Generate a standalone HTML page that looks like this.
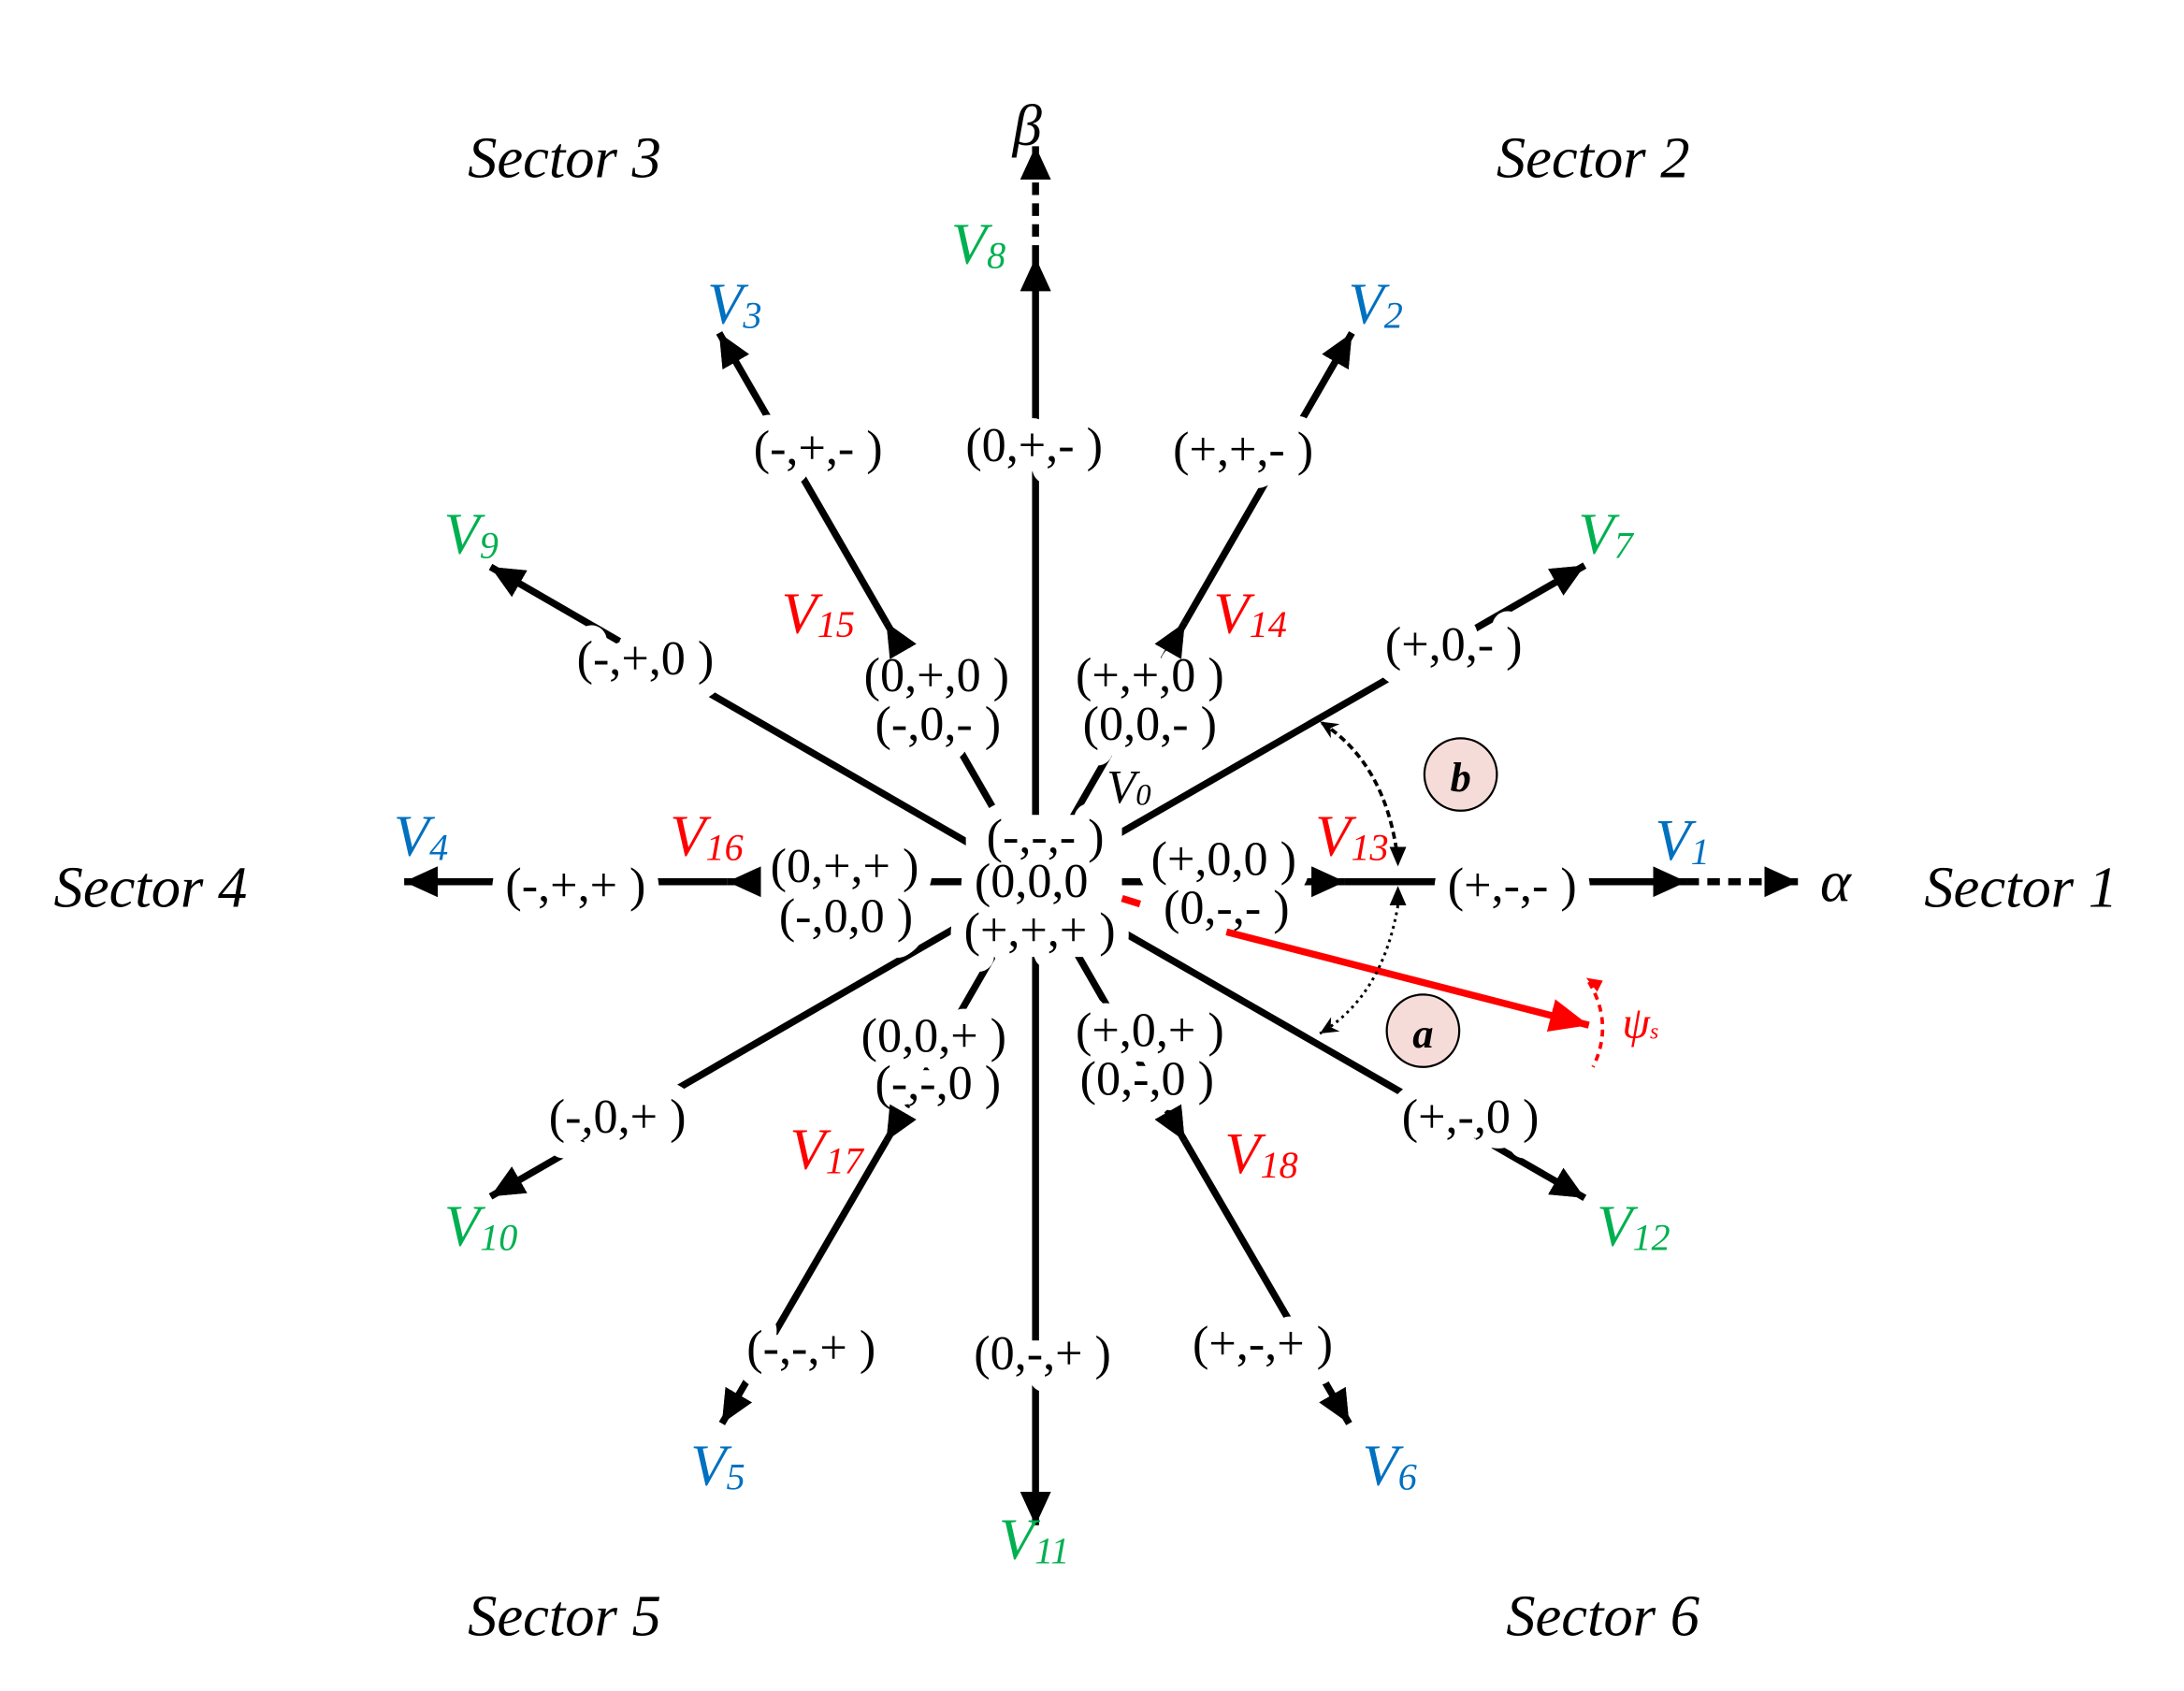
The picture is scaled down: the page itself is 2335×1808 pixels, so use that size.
<!DOCTYPE html>
<html><head><meta charset="utf-8"><style>
html,body{margin:0;padding:0;background:#fff;}
svg{display:block}
.t{font-family:"Liberation Serif",serif;font-size:35px;text-anchor:middle;dominant-baseline:central}
.v{font-family:"Liberation Serif",serif;font-style:italic;font-size:42px;text-anchor:middle;dominant-baseline:central}
.v tspan.s{font-size:27px}
.sec{font-family:"Liberation Serif",serif;font-style:italic;font-size:42px;text-anchor:middle;dominant-baseline:central;fill:#000}
.g{fill:#00b050}.b{fill:#0070c0}.r{fill:#ff0000}.k{fill:#000}
</style></head><body>
<svg width="2335" height="1808" viewBox="0 0 1567 1214" preserveAspectRatio="none" xmlns="http://www.w3.org/2000/svg" xmlns:xlink="http://www.w3.org/1999/xlink">
<defs>
<marker id="ah" markerUnits="userSpaceOnUse" markerWidth="26" markerHeight="22" refX="24" refY="11" orient="auto"><path d="M0,0 L24,11 L0,22 z" fill="#000" stroke="none"/></marker>
<marker id="ahr" markerUnits="userSpaceOnUse" markerWidth="30" markerHeight="24" refX="28" refY="12" orient="auto"><path d="M0,0 L28,12 L0,24 z" fill="#f00"/></marker>
<marker id="sm" markerUnits="userSpaceOnUse" markerWidth="14" markerHeight="12" refX="13" refY="6" orient="auto"><path d="M0,0 L13,6 L0,12 L4,6 z" fill="#000"/></marker>
<g id="lines">
<line x1="743" y1="633" x2="965" y2="633" marker-end="url(#ah)"/>
<line x1="965" y1="633" x2="1210" y2="633" marker-end="url(#ah)"/>
<line x1="1210" y1="633" x2="1290" y2="633" stroke-dasharray="9,6" marker-end="url(#ah)"/>
<line x1="743" y1="633" x2="850" y2="447" marker-end="url(#ah)"/>
<line x1="850" y1="447" x2="970" y2="239" marker-end="url(#ah)"/>
<line x1="743" y1="633" x2="636" y2="447" marker-end="url(#ah)"/>
<line x1="636" y1="447" x2="516" y2="239" marker-end="url(#ah)"/>
<line x1="743" y1="633" x2="522" y2="633" marker-end="url(#ah)"/>
<line x1="522" y1="633" x2="290" y2="633" marker-end="url(#ah)"/>
<line x1="743" y1="633" x2="636" y2="819" marker-end="url(#ah)"/>
<line x1="636" y1="819" x2="518" y2="1022" marker-end="url(#ah)"/>
<line x1="743" y1="633" x2="850" y2="819" marker-end="url(#ah)"/>
<line x1="850" y1="819" x2="968" y2="1022" marker-end="url(#ah)"/>
<line x1="743" y1="633" x2="1137" y2="406" marker-end="url(#ah)"/>
<line x1="743" y1="633" x2="743" y2="185" marker-end="url(#ah)"/>
<line x1="743" y1="185" x2="743" y2="105" stroke-dasharray="9,6" marker-end="url(#ah)"/>
<line x1="743" y1="633" x2="352" y2="407" marker-end="url(#ah)"/>
<line x1="743" y1="633" x2="352" y2="859" marker-end="url(#ah)"/>
<line x1="743" y1="633" x2="743" y2="1095" marker-end="url(#ah)"/>
<line x1="743" y1="633" x2="1137" y2="860" marker-end="url(#ah)"/>
</g>
<g id="labels">
<text class="t" x="742" y="320">(0,+,- )</text>
<text class="t" x="587" y="322">(-,+,- )</text>
<text class="t" x="892" y="323">(+,+,- )</text>
<text class="t" x="463" y="473">(-,+,0 )</text>
<text class="t" x="1043" y="463">(+,0,- )</text>
<text class="t" x="672" y="485">(0,+,0 )</text>
<text class="t" x="673" y="520">(-,0,- )</text>
<text class="t" x="825" y="485">(+,+,0 )</text>
<text class="t" x="825" y="520">(0,0,- )</text>
<text class="t" x="750" y="601">(-,-,- )</text>
<text class="t" x="740" y="633">(0,0,0</text>
<text class="t" x="746" y="668">(+,+,+ )</text>
<text class="t" x="878" y="617">(+,0,0 )</text>
<text class="t" x="880" y="652">(0,-,- )</text>
<text class="t" x="1085" y="636">(+,-,- )</text>
<text class="t" x="413" y="636">(-,+,+ )</text>
<text class="t" x="606" y="622">(0,+,+ )</text>
<text class="t" x="607" y="658">(-,0,0 )</text>
<text class="t" x="670" y="744">(0,0,+ )</text>
<text class="t" x="673" y="778">(-,-,0 )</text>
<text class="t" x="825" y="740">(+,0,+ )</text>
<text class="t" x="823" y="775">(0,-,0 )</text>
<text class="t" x="443" y="802">(-,0,+ )</text>
<text class="t" x="1055" y="802">(+,-,0 )</text>
<text class="t" x="582" y="968">(-,-,+ )</text>
<text class="t" x="748" y="972">(0,-,+ )</text>
<text class="t" x="906" y="965">(+,-,+ )</text>
</g>
</defs>
<use href="#lines" xlink:href="#lines" stroke="#000" stroke-width="5" fill="none"/>
<use href="#labels" xlink:href="#labels" fill="#fff" stroke="#fff" stroke-width="22" stroke-linejoin="round"/>
<rect x="693" y="585" width="112" height="102" fill="#fff"/>
<use href="#lines" xlink:href="#lines" stroke="none" fill="none"/>
<line x1="880" y1="669" x2="1140" y2="736" stroke="#f00" stroke-width="5" marker-end="url(#ahr)"/>
<line x1="805" y1="645" x2="818" y2="649" stroke="#f00" stroke-width="5"/>
<path d="M1140,705 Q1158,735 1143,766" stroke="#f00" stroke-width="2.5" fill="none" stroke-dasharray="5,4"/>
<path d="M1146,712 L1138,702 L1150,704 z" fill="#f00"/>
<path d="M1003,618 Q995,548 947,518" stroke="#000" stroke-width="2.5" fill="none" stroke-dasharray="5,3" marker-end="url(#sm)"/>
<path d="M997,608 L1003,622 L1009,608" fill="#000"/>
<path d="M1003,650 Q992,715 947,742" stroke="#000" stroke-width="2" fill="none" stroke-dasharray="2,3" marker-end="url(#sm)"/>
<path d="M997,650 L1003,636 L1009,650 z" fill="#000"/>
<circle cx="1048" cy="556" r="26" fill="#f6dcd8" stroke="#000" stroke-width="1.5"/>
<text x="1048" y="558" class="v k" style="font-size:30px;font-weight:bold">b</text>
<circle cx="1021" cy="740" r="26" fill="#f6dcd8" stroke="#000" stroke-width="1.5"/>
<text x="1021" y="742" class="v k" style="font-size:30px;font-weight:bold">a</text>
<use href="#labels" xlink:href="#labels" fill="#000" stroke="none"/>
<text class="v k" x="810" y="565" style="font-size:34px">V<tspan class="s" style="font-size:22px" dy="6">0</tspan></text>
<text class="v g" x="702" y="175">V<tspan class="s" dy="8">8</tspan></text>
<text class="v b" x="527" y="218">V<tspan class="s" dy="8">3</tspan></text>
<text class="v b" x="987" y="218">V<tspan class="s" dy="8">2</tspan></text>
<text class="v g" x="338" y="383">V<tspan class="s" dy="8">9</tspan></text>
<text class="v g" x="1152" y="383">V<tspan class="s" dy="8">7</tspan></text>
<text class="v r" x="587" y="440">V<tspan class="s" dy="8">15</tspan></text>
<text class="v r" x="897" y="440">V<tspan class="s" dy="8">14</tspan></text>
<text class="v b" x="302" y="600">V<tspan class="s" dy="8">4</tspan></text>
<text class="v r" x="507" y="600">V<tspan class="s" dy="8">16</tspan></text>
<text class="v r" x="970" y="600">V<tspan class="s" dy="8">13</tspan></text>
<text class="v b" x="1207" y="603">V<tspan class="s" dy="8">1</tspan></text>
<text class="v g" x="345" y="880">V<tspan class="s" dy="8">10</tspan></text>
<text class="v r" x="593" y="825">V<tspan class="s" dy="8">17</tspan></text>
<text class="v r" x="905" y="828">V<tspan class="s" dy="8">18</tspan></text>
<text class="v g" x="1172" y="880">V<tspan class="s" dy="8">12</tspan></text>
<text class="v b" x="515" y="1052">V<tspan class="s" dy="8">5</tspan></text>
<text class="v b" x="997" y="1052">V<tspan class="s" dy="8">6</tspan></text>
<text class="v g" x="742" y="1105">V<tspan class="s" dy="8">11</tspan></text>
<text class="v k" x="737" y="90">β</text>
<text class="v k" x="1317" y="633">α</text>
<text class="v r" x="1177" y="735" style="font-size:32px">ψ<tspan style="font-size:16px" dy="6">s</tspan></text>
<text class="sec" x="405" y="113">Sector 3</text>
<text class="sec" x="1143" y="113">Sector 2</text>
<text class="sec" x="108" y="637">Sector 4</text>
<text class="sec" x="1450" y="637">Sector 1</text>
<text class="sec" x="405" y="1160">Sector 5</text>
<text class="sec" x="1150" y="1160">Sector 6</text>
</svg>
</body></html>
